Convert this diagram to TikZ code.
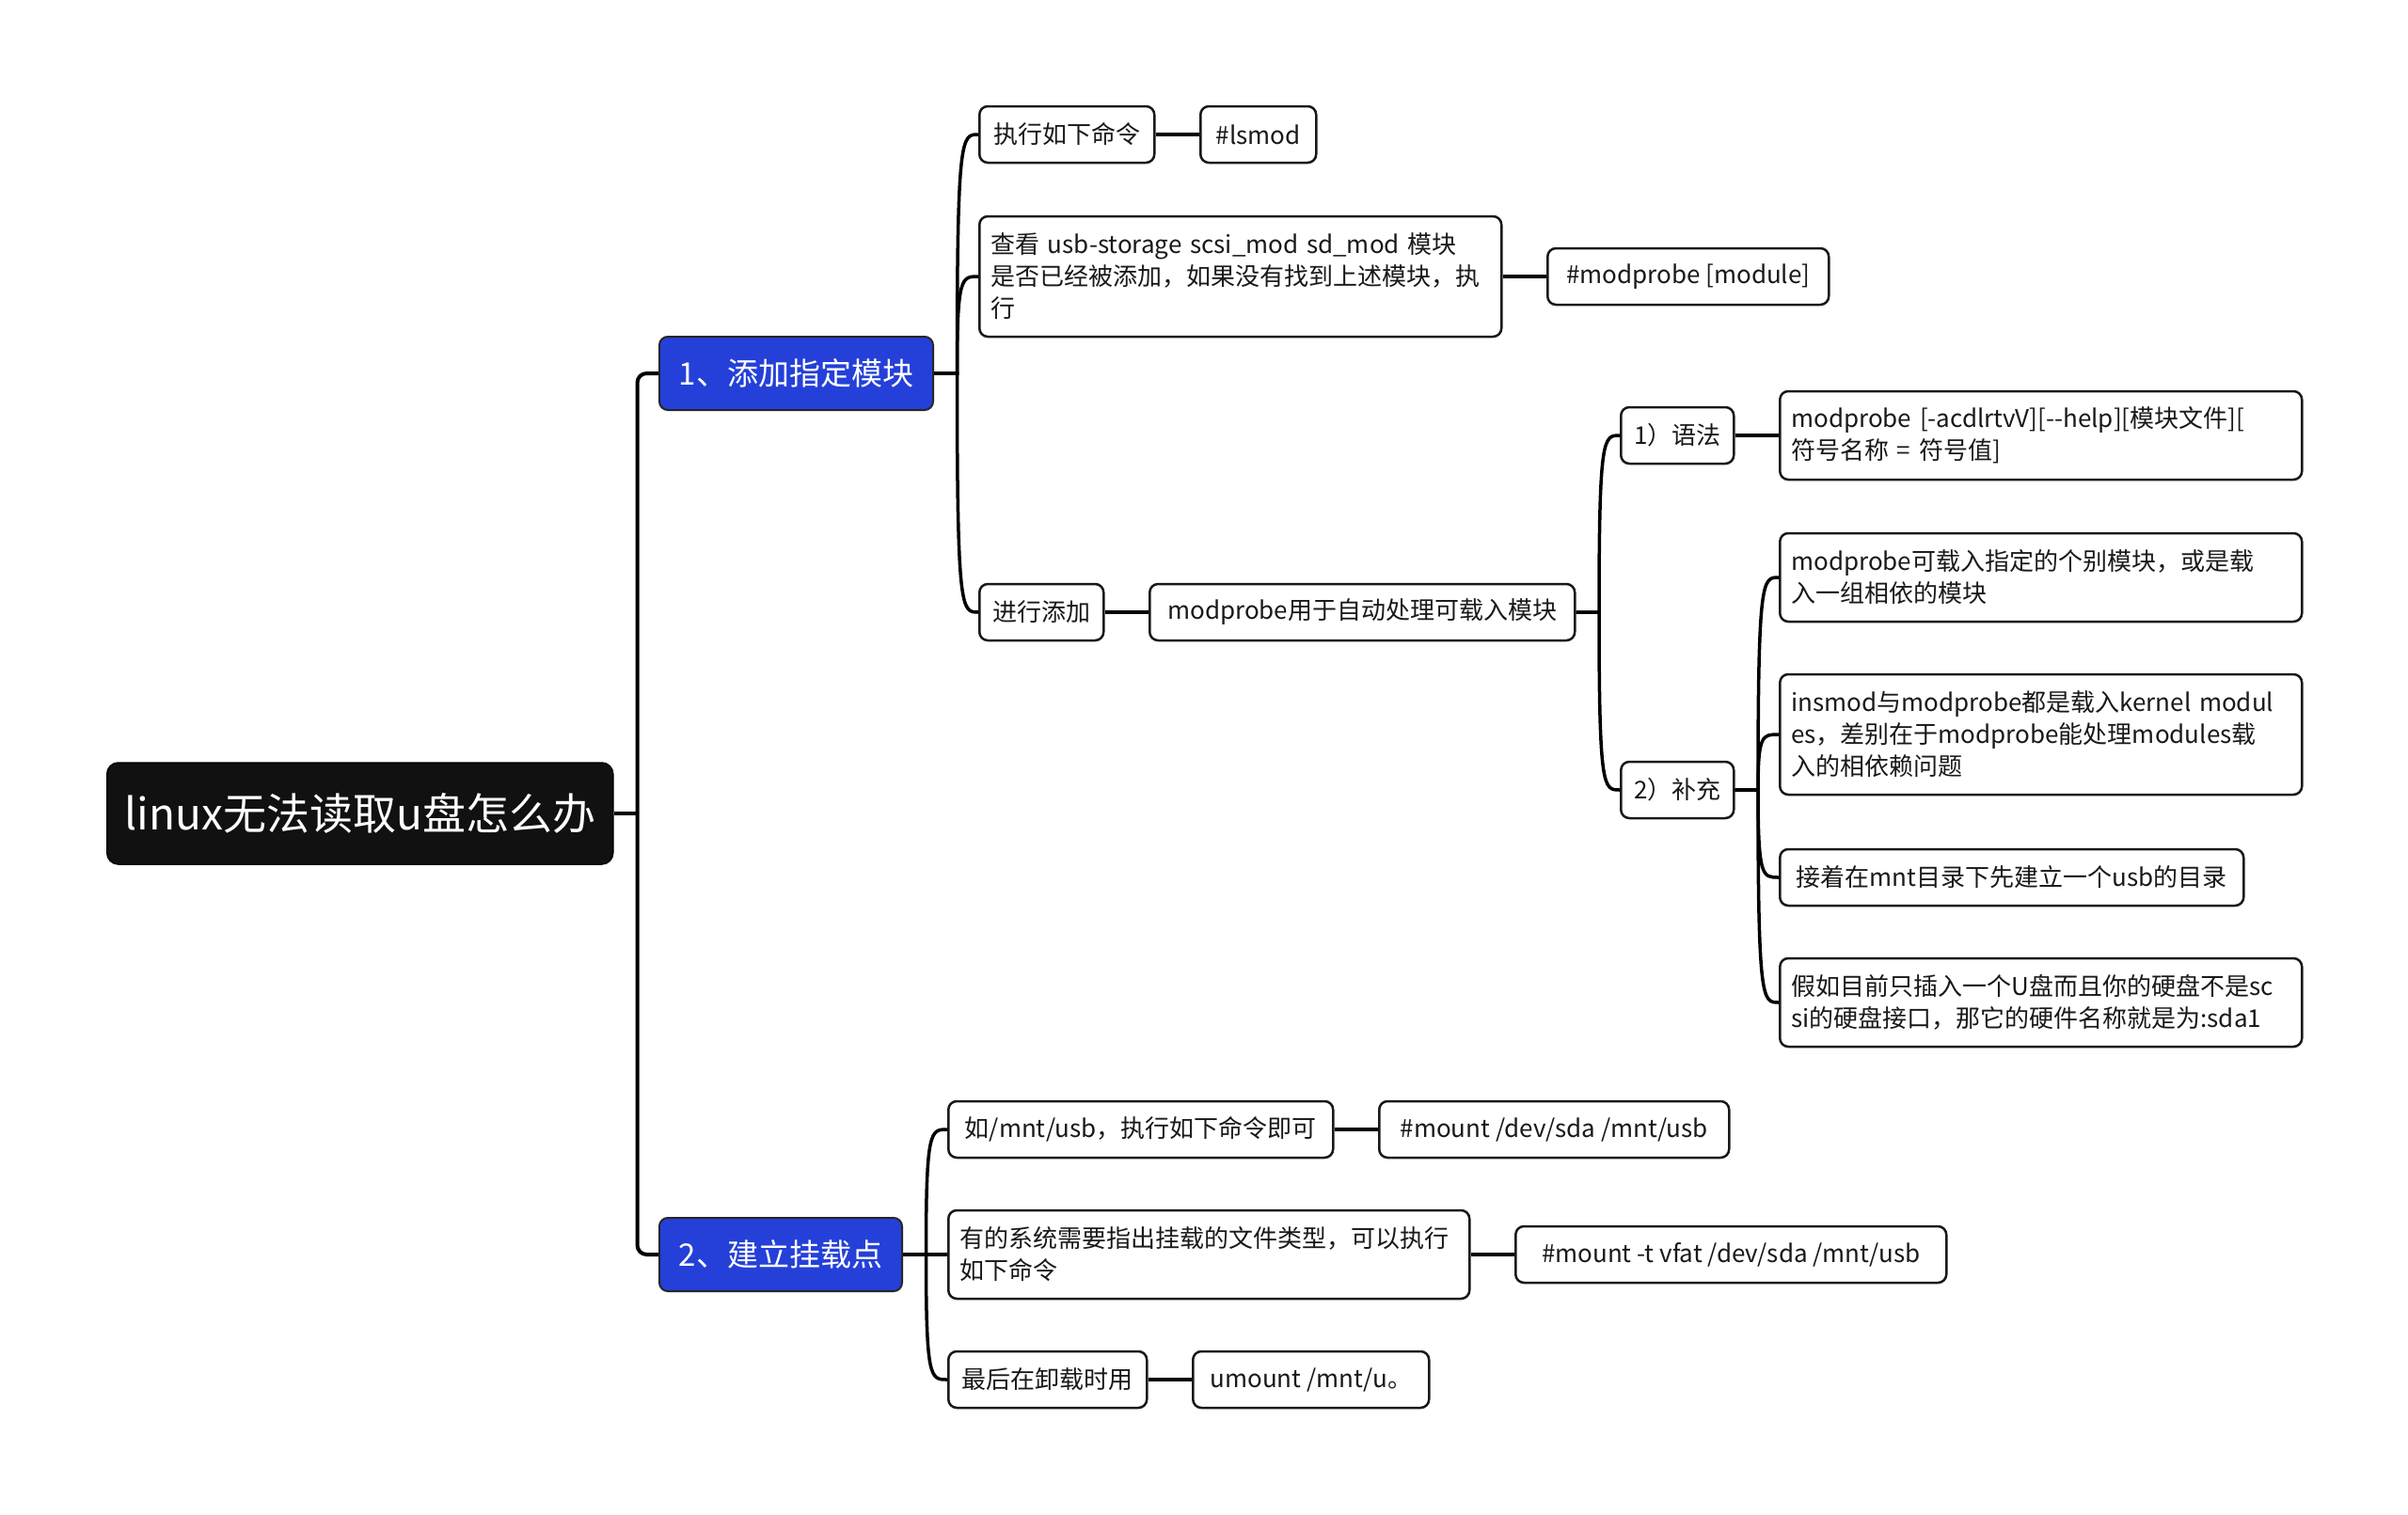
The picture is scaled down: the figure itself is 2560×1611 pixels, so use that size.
\documentclass[tikz,border=0pt]{standalone}
\usepackage{fontspec}
\setmainfont{Noto Sans CJK SC}
\usetikzlibrary{positioning,calc}
\definecolor{zweigblau}{RGB}{37,64,216}
\definecolor{wurzelschwarz}{RGB}{17,17,17}

\begin{document}
\begin{tikzpicture}[x=1pt, y=-1pt,
  wurzel/.style={draw=black, fill=wurzelschwarz, text=white, rounded corners=12,
    line width=1.5, font=\fontsize{46}{54}\selectfont, inner sep=0,
    minimum height=108, anchor=west},
  zweig/.style={draw=black!85, fill=zweigblau, text=white, rounded corners=9,
    line width=2, font=\fontsize{33}{40}\selectfont, inner sep=0,
    minimum height=78, anchor=west},
  blatt/.style={draw=black!90, fill=white, text=black!90, rounded corners=9,
    line width=2.5, font=\fontsize{26}{34}\selectfont, align=left,
    inner xsep=12, inner ysep=0, minimum height=60, anchor=west},
  stamm/.style={line width=4, black},
  ast/.style={line width=3.5, black, to path={let \p1=(\tikztostart), \p2=(\tikztotarget) in
    -- (\x1+24.5pt,\y1) .. controls (\x1+24.5pt,\y2) and (\x1+29pt,\y2) .. (\tikztotarget)}}]

% weisser Hintergrund in voller Bildgroesse
\path[fill=white] (0,0) rectangle (2560,1611);

% Wurzel und die beiden Hauptzweige
\node[wurzel, minimum width=538] (root) at (113,865) {linux无法读取u盘怎么办};
\node[zweig, minimum width=291] (b1) at (700,397) {1、添加指定模块};
\node[zweig, minimum width=258] (b2) at (700,1334) {2、建立挂载点};

\draw[stamm] (root.east) -- ++(25,0) coordinate (gabel);
\draw[stamm, rounded corners=10] (gabel) |- (b1.west);
\draw[stamm, rounded corners=10] (gabel) |- (b2.west);

% Zweig 1: Module hinzufuegen
\node[blatt, minimum width=186] (a1) at (1040,143) {执行如下命令};
\node[blatt, minimum width=123, right=46.5pt of a1] (a1r) {\#lsmod};
\node[blatt, text width=531, minimum height=128] (a2) at (1040,294)
  {查看 usb-storage scsi\_mod sd\_mod 模块\\是否已经被添加，如果没有找到上述模块，执\\行};
\node[blatt, minimum width=299, right=46.5pt of a2] (a2r) {\#modprobe [module]};
\node[blatt, minimum width=132] (a3) at (1040,651) {进行添加};
\node[blatt, minimum width=452, right=46.5pt of a3] (a3r) {modprobe用于自动处理可载入模块};

\draw[ast] (b1.east) to (a1.west);
\draw[ast] (b1.east) to (a2.west);
\draw[ast] (b1.east) to (a3.west);
\draw[stamm] (a1.east) -- (a1r.west);
\draw[stamm] (a2.east) -- (a2r.west);
\draw[stamm] (a3.east) -- (a3r.west);

% Syntax und Ergaenzungen zu modprobe
\node[blatt, minimum width=120] (s1) at (1722,463) {1）语法};
\node[blatt, text width=531, minimum height=94, right=46.5pt of s1] (s1r)
  {modprobe [-acdlrtvV][{-}{-}help][模块文件][\\符号名称 = 符号值]};
\node[blatt, minimum width=120] (s2) at (1722,840) {2）补充};

\node[blatt, text width=531, minimum height=94] (t1) at (1891,614)
  {modprobe可载入指定的个别模块，或是载\\入一组相依的模块};
\node[blatt, text width=531, minimum height=128] (t2) at (1891,781)
  {insmod与modprobe都是载入kernel modul\\es，差别在于modprobe能处理modules载\\入的相依赖问题};
\node[blatt, minimum width=493] (t3) at (1891,933) {接着在mnt目录下先建立一个usb的目录};
\node[blatt, text width=531, minimum height=94] (t4) at (1891,1066)
  {假如目前只插入一个U盘而且你的硬盘不是sc\\si的硬盘接口，那它的硬件名称就是为:sda1};

\draw[ast] (a3r.east) to (s1.west);
\draw[ast] (a3r.east) to (s2.west);
\draw[stamm] (s1.east) -- (s1r.west);
\draw[ast] (s2.east) to (t1.west);
\draw[ast] (s2.east) to (t2.west);
\draw[ast] (s2.east) to (t3.west);
\draw[ast] (s2.east) to (t4.west);

% Zweig 2: Mountpunkt anlegen
\node[blatt, minimum width=409] (m1) at (1007,1201) {如/mnt/usb，执行如下命令即可};
\node[blatt, minimum width=372, right=46.5pt of m1] (m1r) {\#mount /dev/sda /mnt/usb};
\node[blatt, text width=530, minimum height=94] (m2) at (1007,1334)
  {有的系统需要指出挂载的文件类型，可以执行\\如下命令};
\node[blatt, minimum width=458, right=46.5pt of m2] (m2r) {\#mount -t vfat /dev/sda /mnt/usb};
\node[blatt, minimum width=211] (m3) at (1007,1467) {最后在卸载时用};
\node[blatt, minimum width=251, right=46.5pt of m3] (m3r) {umount /mnt/u。};

\draw[ast] (b2.east) to (m1.west);
\draw[ast] (b2.east) to (m2.west);
\draw[ast] (b2.east) to (m3.west);
\draw[stamm] (m1.east) -- (m1r.west);
\draw[stamm] (m2.east) -- (m2r.west);
\draw[stamm] (m3.east) -- (m3r.west);

\end{tikzpicture}
\end{document}
